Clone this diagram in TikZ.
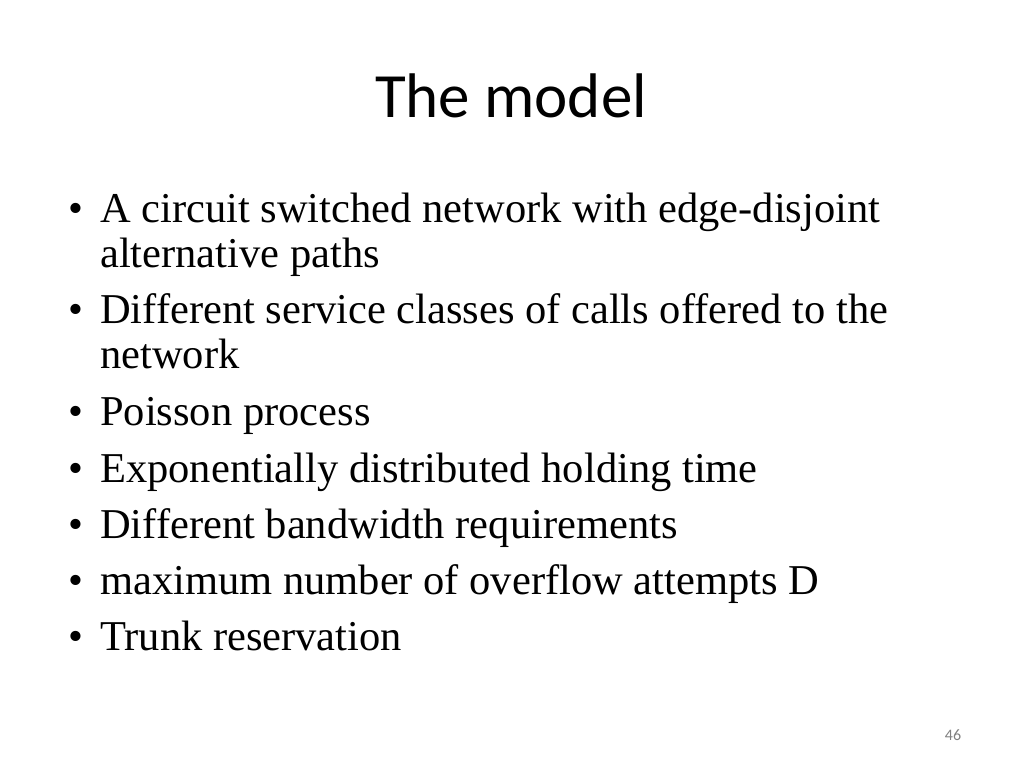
\documentclass[tikz,border=0pt]{standalone}
\usepackage{fontspec}
\setmainfont{Liberation Serif}
\newfontfamily\titlefont{Carlito}
\begin{document}
\begin{tikzpicture}[
  x=1pt,y=-1pt,
  line/.style={anchor=base west,inner sep=0pt,font=\fontsize{42.5}{48}\selectfont},
  dot/.style={anchor=base west,inner sep=0pt,font=\fontsize{42.5}{48}\selectfont}
]
\useasboundingbox[fill=white] (0,0) rectangle (1024,768);

% Title
\node[anchor=base,inner sep=0pt,font=\titlefont\fontsize{63}{70}\selectfont] (title) at (511,117) {The model};

% Bullets
\foreach \y/\txt [count=\i] in {
  222/{A circuit switched network with edge-disjoint},
  323/{Different service classes of calls offered to the},
  425/{Poisson process},
  482/{Exponentially distributed holding time},
  538/{Different bandwidth requirements},
  594/{maximum number of overflow attempts D},
  650/{Trunk reservation}}
{
  \node[dot] (dot\i) at (68,\y) {\textbullet};
  \node[line] (item\i) at (100,\y) {\txt};
}
% Continuation lines
\node[line] (cont1) at (100,267) {alternative paths};
\node[line] (cont2) at (100,368) {network};

% Page number
\node[anchor=base,inner sep=0pt,text=gray,font=\titlefont\fontsize{16}{18}\selectfont] (page) at (953,740) {46};
\end{tikzpicture}
\end{document}
